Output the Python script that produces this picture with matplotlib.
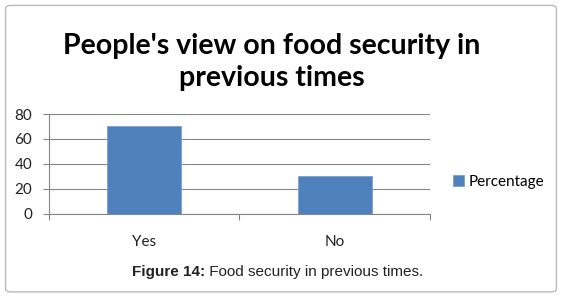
import matplotlib
matplotlib.use("Agg")
import matplotlib.pyplot as plt
from matplotlib.patches import FancyBboxPatch

categories = ["Yes", "No"]
values = [70, 30]
series_name = "Percentage"
yticks = [0, 20, 40, 60, 80]

plt.rcParams['font.family'] = ['Lato', 'DejaVu Sans']

fig = plt.figure(figsize=(5.62, 3.0), dpi=100)
ax = fig.add_axes([0.087, 0.287, 0.678, 0.333])

x = list(range(len(categories)))
ax.bar(x, values, width=0.39, color="#4F81BD", edgecolor="#7A9FD0", linewidth=0.6,
       label=series_name, zorder=3)
ax.set_xlim(-0.5, len(categories) - 0.5)
ax.set_ylim(0, 80)
ax.set_yticks(yticks)
ax.set_yticklabels([str(t) for t in yticks], fontsize=11, color="#222222")
ax.set_xticks(x)
ax.set_xticklabels(categories, fontsize=11, color="#222222")
ax.tick_params(axis="x", length=0, pad=15)
ax.tick_params(axis="y", length=4, width=0.8, color="#868686", pad=8)
ax.yaxis.grid(True, color="#868686", linewidth=0.8, zorder=0)
for s in ["top", "right"]:
    ax.spines[s].set_visible(False)
for s in ["left", "bottom"]:
    ax.spines[s].set_color("#868686")
    ax.spines[s].set_linewidth(0.8)
ax.set_xticks([-0.5, 0.5, 1.5], minor=True)
ax.tick_params(axis="x", which="minor", length=4, width=0.8, color="#868686", direction="out")

fig.text(0.484, 0.793, "People's view on food security in\nprevious times", ha="center", va="center",
         fontsize=20.5, fontweight="bold", color="#000000", linespacing=1.3)

leg = ax.legend(loc="center left", bbox_to_anchor=(1.045, 0.32), frameon=False, fontsize=11,
                handlelength=0.7, handleheight=0.7, handletextpad=0.3, borderaxespad=0)

fig.text(0.365, 0.093, "Figure 14:", ha="right", va="center", fontsize=11,
         fontweight="bold", family=["Liberation Sans"], color="#222222")
fig.text(0.365, 0.093, " Food security in previous times.", ha="left", va="center", fontsize=11,
         family=["Liberation Sans"], color="#222222")

box = FancyBboxPatch((0.01, 0.027), 0.98, 0.955, boxstyle="round,pad=0,rounding_size=0.01",
                     transform=fig.transFigure, fill=False, edgecolor="#BBBBBB", linewidth=1.0)
fig.patches.append(box)

fig.savefig("out.png", dpi=100)
